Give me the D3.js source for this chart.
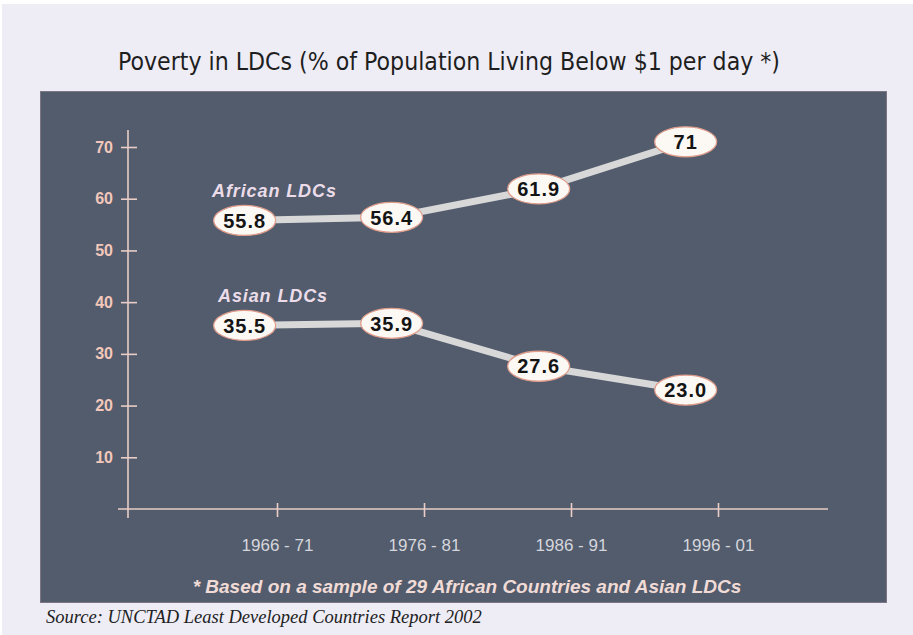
<!DOCTYPE html>
<html>
<head>
<meta charset="utf-8">
<script src="https://cdn.jsdelivr.net/npm/d3@7"></script>
<style>
  html, body { margin: 0; padding: 0; background: #ffffff; }
  svg { display: block; }
</style>
</head>
<body>
<svg id="chart" width="913" height="635"></svg>
<script>
// Periods along the horizontal axis
const periods = ["1966 - 71", "1976 - 81", "1986 - 91", "1996 - 01"];
// Share of population living below $1 a day (%)
const africanLDCs = [55.8, 56.4, 61.9, 71];
const asianLDCs = [35.5, 35.9, 27.6, 23.0];
const africanLabels = ["55.8", "56.4", "61.9", "71"];
const asianLabels = ["35.5", "35.9", "27.6", "23.0"];
const yTicks = [10, 20, 30, 40, 50, 60, 70];
const seriesNames = ["African LDCs", "Asian LDCs"];

const svg = d3.select("#chart");

// page background and framed area
svg.append("rect").attr("x", 0).attr("y", 0).attr("width", 913).attr("height", 635).attr("fill", "#ffffff");
svg.append("rect").attr("x", 2).attr("y", 4).attr("width", 911).attr("height", 631).attr("fill", "#eeedf6");

svg.append("text")
  .attr("x", 118).attr("y", 70)
  .attr("textLength", 662).attr("lengthAdjust", "spacingAndGlyphs")
  .attr("font-family", "'Liberation Sans Narrow', 'DejaVu Sans Condensed', 'Liberation Sans', sans-serif")
  .attr("font-size", 25)
  .attr("fill", "#1e1e1e")
  .text("Poverty in LDCs (% of Population Living Below $1 per day *)");

// dark plotting panel
svg.append("rect")
  .attr("x", 40.5).attr("y", 91.5).attr("width", 846).attr("height", 511)
  .attr("fill", "#525c6c").attr("stroke", "#7c7584").attr("stroke-width", 1);

const x = d3.scalePoint().domain(periods).range([277, 718]);
const y = d3.scaleLinear().domain([0, 70]).range([509, 147]);
// markers sit a little to the left of each period tick
const markerShift = -0.22 * x.step();
const mx = d => x(d) + markerShift;

const axisColor = "#e9cdc6";

// y axis
const yAxis = svg.append("g").attr("transform", "translate(128,0)")
  .call(d3.axisLeft(y).tickValues(yTicks).tickSize(8).tickPadding(8));
yAxis.attr("font-size", null).attr("font-family", null);
yAxis.select(".domain").remove();
yAxis.selectAll(".tick line").attr("x1", -7).attr("x2", 9)
  .attr("stroke", axisColor).attr("stroke-width", 1.6);
yAxis.selectAll(".tick text")
  .attr("x", -15)
  .style("font-family", "'Liberation Sans', Arial, sans-serif")
  .style("font-weight", "bold").style("font-size", "16px")
  .attr("fill", "#f3c8bb");
yAxis.append("line").attr("x1", 0).attr("x2", 0).attr("y1", 130).attr("y2", 518)
  .attr("stroke", axisColor).attr("stroke-width", 1.6);

// x axis
const xAxis = svg.append("g").attr("transform", "translate(0,509)")
  .call(d3.axisBottom(x).tickSize(7).tickPadding(20));
xAxis.attr("font-size", null).attr("font-family", null);
xAxis.select(".domain").remove();
xAxis.append("line").attr("x1", 118).attr("x2", 828).attr("y1", 0).attr("y2", 0)
  .attr("stroke", axisColor).attr("stroke-width", 1.6);
xAxis.selectAll(".tick line").attr("y1", -6).attr("y2", 8)
  .attr("stroke", axisColor).attr("stroke-width", 1.6);
xAxis.selectAll(".tick text")
  .attr("y", 30)
  .style("font-family", "'Liberation Sans', Arial, sans-serif")
  .style("font-size", "17px")
  .attr("fill", "#d6d6dd");

// series lines with labelled oval markers
const line = d3.line().x((d, i) => mx(periods[i])).y(d => y(d));
function drawSeries(values, labels) {
  svg.append("path").datum(values)
    .attr("d", line)
    .attr("fill", "none")
    .attr("stroke", "#d8d8d8")
    .attr("stroke-width", 7)
    .attr("stroke-linejoin", "round");
  const g = svg.append("g").selectAll("g").data(values).join("g")
    .attr("transform", (d, i) => `translate(${mx(periods[i])},${y(d)})`);
  g.append("ellipse").attr("rx", 31).attr("ry", 15)
    .attr("fill", "#fcf9f5").attr("stroke", "#df9d8c").attr("stroke-width", 1.3);
  g.append("text").attr("text-anchor", "middle").attr("dy", "0.36em")
    .attr("font-family", "'Liberation Sans', Arial, sans-serif")
    .attr("font-weight", "bold").attr("font-size", 20)
    .attr("letter-spacing", 1)
    .attr("fill", "#141414")
    .text((d, i) => labels[i]);
}
drawSeries(africanLDCs, africanLabels);
drawSeries(asianLDCs, asianLabels);

// series names
const nameStyle = sel => sel
  .attr("font-family", "'Liberation Sans', Arial, sans-serif")
  .attr("font-weight", "bold").attr("font-style", "italic")
  .attr("font-size", 18).attr("letter-spacing", 0.9)
  .attr("fill", "#ecdcea");
svg.append("text").attr("x", 212).attr("y", 197).text(seriesNames[0]).call(nameStyle);
svg.append("text").attr("x", 218).attr("y", 302).text(seriesNames[1]).call(nameStyle);

// footnote inside the panel
svg.append("text")
  .attr("x", 467).attr("y", 593)
  .attr("text-anchor", "middle")
  .attr("font-family", "'Liberation Sans', Arial, sans-serif")
  .attr("font-weight", "bold").attr("font-style", "italic")
  .attr("font-size", 19)
  .attr("fill", "#f1dbd6")
  .text("* Based on a sample of 29 African Countries and Asian LDCs");

// source line
svg.append("text")
  .attr("x", 46).attr("y", 623)
  .attr("font-family", "'Liberation Serif', 'DejaVu Serif', serif")
  .attr("font-style", "italic")
  .attr("font-size", 18.5)
  .attr("fill", "#222222")
  .text("Source: UNCTAD Least Developed Countries Report 2002");
</script>
</body>
</html>
